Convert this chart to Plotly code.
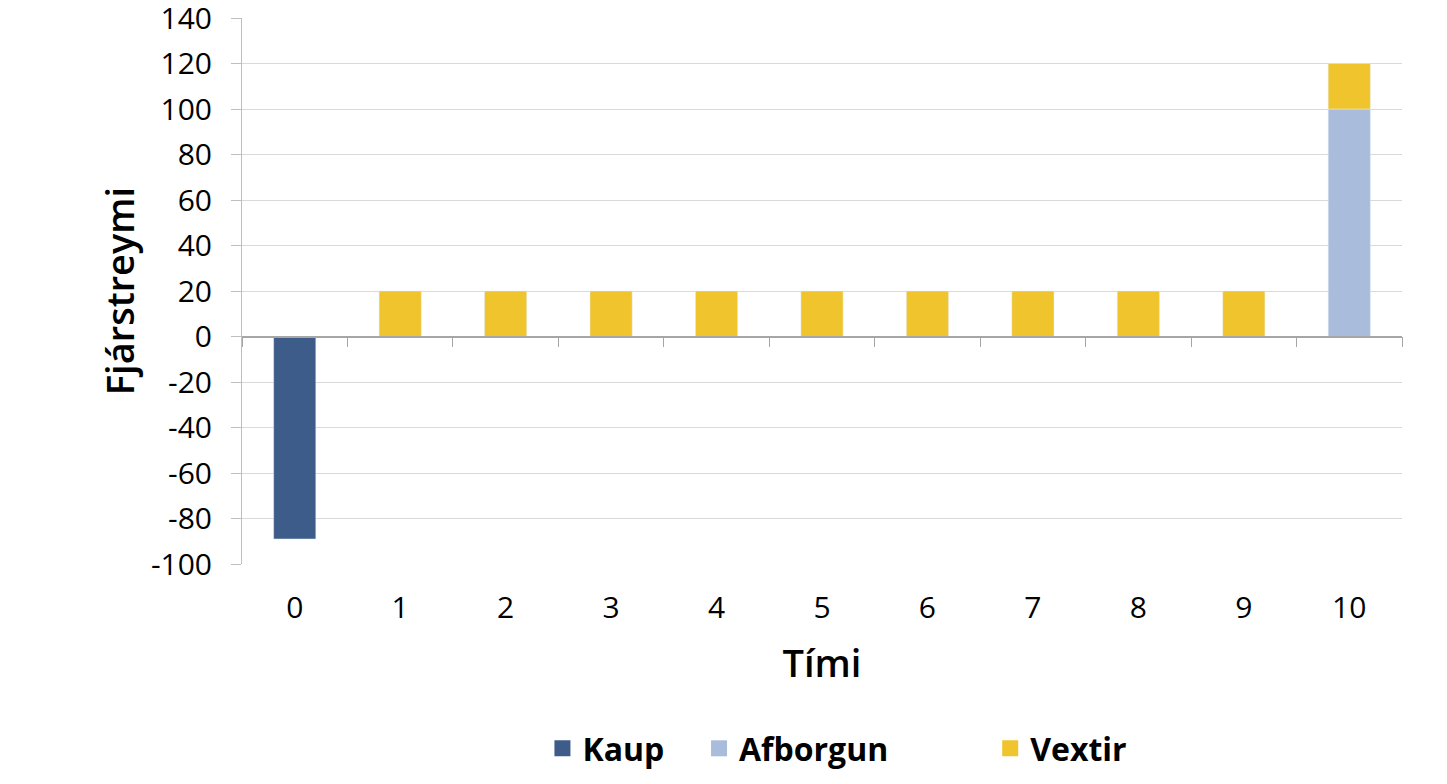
import plotly.graph_objects as go

periods = [str(i) for i in range(11)]
kaup = [-89, None, None, None, None, None, None, None, None, None, None]
afborgun = [None, None, None, None, None, None, None, None, None, None, 100]
vextir = [None, 20, 20, 20, 20, 20, 20, 20, 20, 20, 20]
y_ticks = [-100, -80, -60, -40, -20, 0, 20, 40, 60, 80, 100, 120, 140]

series = [("Kaup", kaup, "#3e5c8a"), ("Afborgun", afborgun, "#a9bcdb"), ("Vextir", vextir, "#f0c42c")]
legend_x = [0.259, 0.394, 0.645]
y_range = [y_ticks[0], y_ticks[-1]]
font_family = "Open Sans, sans-serif"

fig = go.Figure()
for name, values, color in series:
    fig.add_trace(go.Bar(x=list(range(len(periods))), y=values, name=name, marker_color=color,
                         width=0.4, showlegend=False))
# bigger square legend keys, one legend per entry so they can be spaced like the original
legends = {}
for i, (name, values, color) in enumerate(series):
    key = "legend" if i == 0 else "legend%d" % (i + 1)
    fig.add_trace(go.Scatter(x=[None], y=[None], mode="markers", name=name, legend=key,
                             marker=dict(symbol="square", size=17, color=color)))
    legends[key] = dict(orientation="h", x=legend_x[i], xanchor="left",
                        yref="container", y=0, yanchor="bottom",
                        font=dict(size=32, weight=700), itemclick=False, itemwidth=30,
                        bgcolor="rgba(0,0,0,0)")

# the x axis line sits at zero, with ticks between the categories
zero_pos = (0 - y_range[0]) / (y_range[1] - y_range[0])
boundaries = [i - 0.5 for i in range(len(periods) + 1)]

fig.update_layout(
    barmode="relative",
    width=1431, height=768,
    margin=dict(l=234, r=37, t=10, b=212),
    plot_bgcolor="white", paper_bgcolor="white",
    font=dict(family=font_family, color="black", size=30),
    showlegend=True,
    xaxis=dict(range=[-0.5, 10.5], tickvals=list(range(len(periods))), ticktext=periods,
               showgrid=False, zeroline=False, showline=False, ticks="", automargin=False,
               ticklabelstandoff=23,
               title=dict(text="Tími", font=dict(size=38, weight=600), standoff=24)),
    xaxis2=dict(overlaying="x", matches="x", anchor="free", position=zero_pos,
                tickvals=boundaries, showticklabels=False, ticks="outside", ticklen=10,
                tickcolor="#a6a6a6", showline=True, linecolor="#a6a6a6", linewidth=1.5,
                showgrid=False, zeroline=False, automargin=False),
    yaxis=dict(range=y_range, tickvals=y_ticks, ticktext=[str(v) for v in y_ticks],
               showgrid=True, gridcolor="#d9d9d9", gridwidth=1, automargin=False,
               ticklabeloverflow="allow",
               zeroline=False, showline=True, linecolor="#bfbfbf", linewidth=1,
               ticks="outside", ticklen=10, tickcolor="#bfbfbf", ticklabelstandoff=13,
               title=dict(text="Fjárstreymi", font=dict(size=38, weight=600), standoff=4)),
    **legends,
)
fig.add_trace(go.Scatter(x=[None], y=[None], xaxis="x2", showlegend=False, hoverinfo="skip"))

fig.write_html("out.html")
